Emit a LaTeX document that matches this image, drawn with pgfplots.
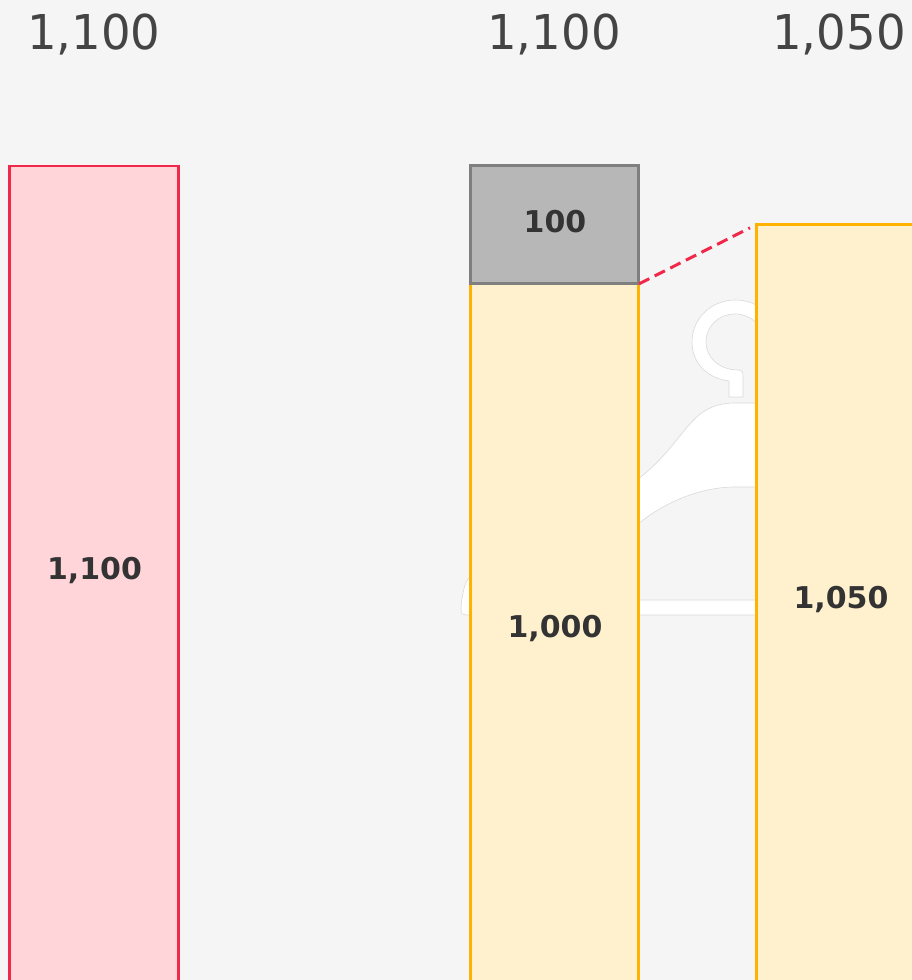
\documentclass[border=0pt]{standalone}
\usepackage{pgfplots}
\usepackage{fontspec}
\pgfplotsset{compat=1.18}
\setmainfont{DejaVu Sans}
\newfontfamily\topfont[FakeStretch=0.97]{DejaVu Sans}
\definecolor{bg}{HTML}{F5F5F5}
\definecolor{redE}{HTML}{F0284A}
\definecolor{redF}{HTML}{FFD5DA}
\definecolor{yelE}{HTML}{FFB300}
\definecolor{yelF}{HTML}{FFF0CE}
\definecolor{graE}{HTML}{7F7F7F}
\definecolor{graF}{HTML}{B7B7B7}
\definecolor{txtA}{HTML}{333333}
\definecolor{txtB}{HTML}{444444}
\definecolor{hang}{HTML}{D9D9D9}
\pgfplotstableread{
x y
94 1100
}\redbar
\pgfplotstableread{
x y
554.5 1000
840.5 1050
}\yelbar
\pgfplotstableread{
x y
554.5 1100
}\grabar
\begin{document}
\begin{tikzpicture}[x=1pt,y=1pt]
\useasboundingbox (0,0) rectangle (912,980);
\fill[bg] (0,0) rectangle (912,980);
% decorative hanger behind the bars (y measured from the bottom: 980 - pixel row)
\begin{scope}[draw=hang,line width=0.6pt,fill=white,yscale=-1,yshift=-980pt]
\filldraw (729,397) -- (729,381) .. controls (706,378) and (692,362) .. (692,342)
  .. controls (692,318) and (712,300) .. (735,300) .. controls (760,300) and (778,318) .. (778,342)
  -- (764,342) .. controls (764,326) and (751,314) .. (735,314) .. controls (719,314) and (706,326) .. (706,342)
  .. controls (706,358) and (720,370) .. (738,370) .. controls (742,370) and (743,372) .. (743,376)
  -- (743,397) -- cycle;
\filldraw (735,403) .. controls (700,403) and (690,425) .. (670,448)
  .. controls (640,485) and (600,505) .. (560,525)
  .. controls (520,545) and (475,560) .. (465,585)
  .. controls (462,595) and (461,605) .. (461,610)
  .. controls (461,614) and (463,615) .. (466,615)
  -- (780,615) -- (780,600) -- (500,600)
  .. controls (550,580) and (610,545) .. (650,515)
  .. controls (680,495) and (710,487) .. (735,487)
  -- (780,487) -- (780,403) -- cycle;
\end{scope}
\begin{axis}[
  at={(0,-5)},anchor=south west,
  scale only axis,width=912pt,height=985pt,
  xmin=0,xmax=912,ymin=405.08,ymax=1239.8,
  hide axis,clip=true,
]
\addplot[ybar,bar width=169pt,bar shift=0pt,draw=redE,fill=redF,line width=2.3pt] table[x=x,y=y]{\redbar};
\addplot[ybar,bar width=168.5pt,bar shift=0pt,draw=graE,fill=graF,line width=2.8pt] table[x=x,y=y]{\grabar};
\addplot[ybar,bar width=168.5pt,bar shift=0pt,draw=yelE,fill=yelF,line width=3pt] table[x=x,y=y]{\yelbar};
\addplot[graE,line width=2.8pt] coordinates {(468.8,1000) (640,1000)};
\addplot[redE,line width=3pt,dash pattern=on 11.5pt off 6pt] coordinates {(639,1000) (750,1047.5)};
\addplot[only marks,mark=none,nodes near coords,point meta=explicit symbolic,
  every node near coord/.append style={anchor=center,text=txtA,font=\fontsize{30}{30}\selectfont\bfseries}]
  table[meta=l]{
x y l
94.5 756.8 {1,100}
555 707.6 {1,000}
555 1052.5 {100}
841 732.2 {1,050}
};
\addplot[only marks,mark=none,nodes near coords,point meta=explicit symbolic,
  every node near coord/.append style={anchor=center,text=txtB,font=\topfont\fontsize{48}{48}\selectfont}]
  table[meta=l]{
x y l
94 1211.3 {1,100}
554 1211.3 {1,100}
839 1211.3 {1,050}
};
\end{axis}
\end{tikzpicture}
\end{document}
